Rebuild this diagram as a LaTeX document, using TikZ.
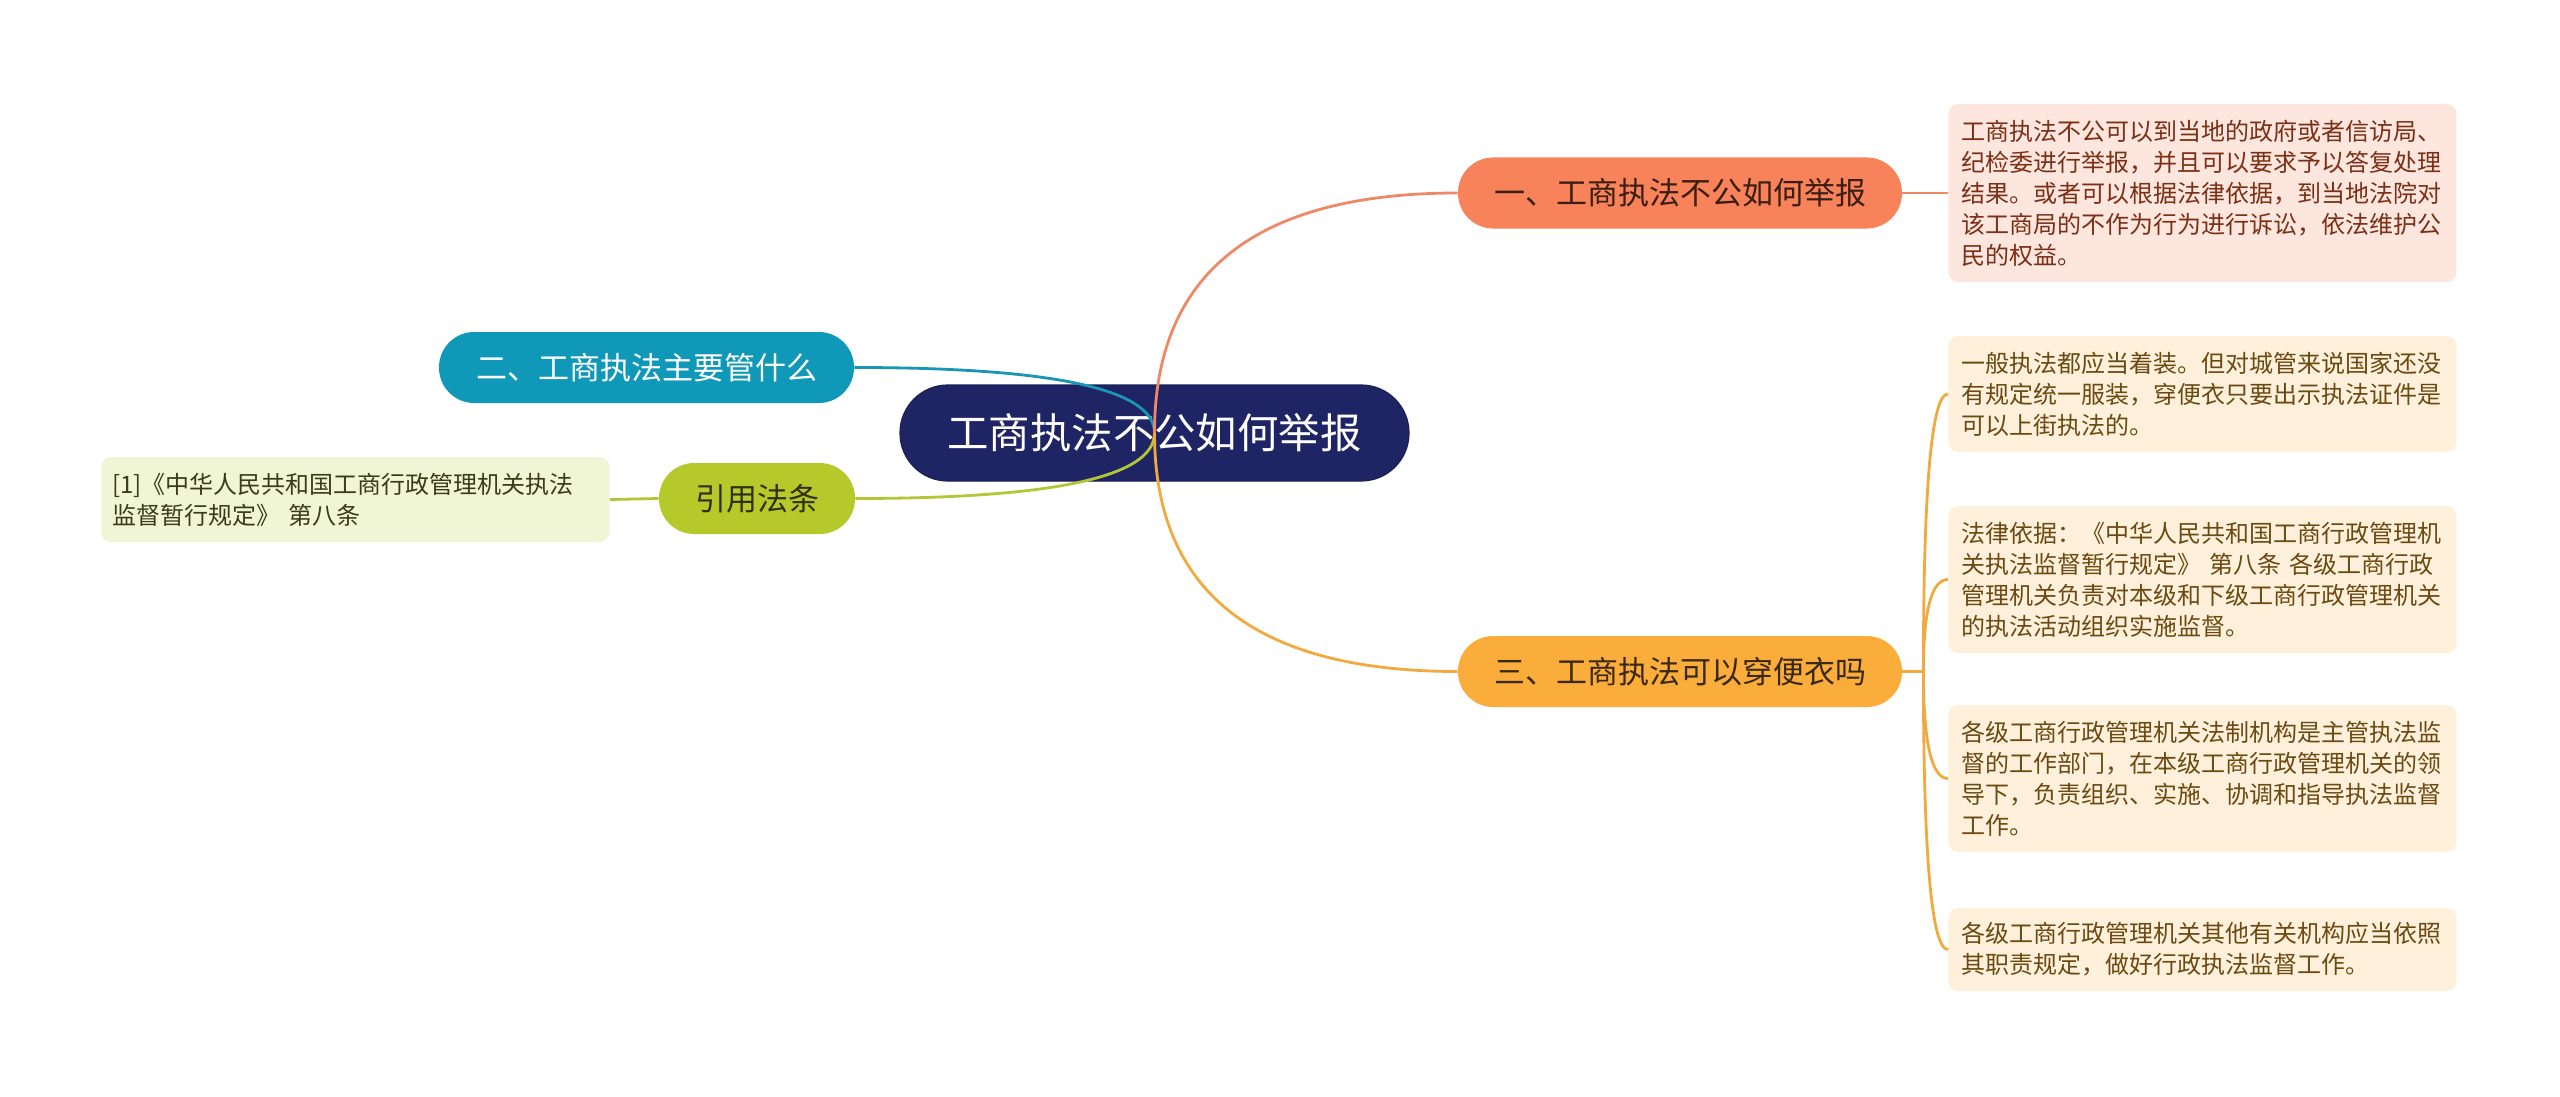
\documentclass[tikz,border=0pt]{standalone}
\usepackage{fontspec}
\newfontfamily\cjk{Noto Sans CJK SC}
\usetikzlibrary{calc}
\definecolor{rootc}{HTML}{1F2564}
\definecolor{rootd}{HTML}{1A1F55}
\definecolor{cA}{HTML}{F8825A}
\definecolor{cB}{HTML}{0F98B8}
\definecolor{cC}{HTML}{FBAD3B}
\definecolor{cD}{HTML}{B5CA2A}
\definecolor{tA}{HTML}{3A1E12}
\definecolor{tC}{HTML}{3A2812}
\definecolor{tD}{HTML}{2E3010}
\definecolor{kA}{HTML}{EF8866}
\definecolor{kB}{HTML}{1A96B5}
\definecolor{kC}{HTML}{F2A93E}
\definecolor{kD}{HTML}{B3C736}
\definecolor{lA}{HTML}{FDE6DE}
\definecolor{lC}{HTML}{FEF0DA}
\definecolor{lD}{HTML}{F0F5D6}
\definecolor{ltA}{HTML}{7B2F14}
\definecolor{ltC}{HTML}{6B4A12}
\definecolor{ltD}{HTML}{3A3C18}
\begin{document}
\begin{tikzpicture}[x=0.5pt,y=-0.5pt,
  rootbox/.style={rectangle, rounded corners=23.9pt, fill=rootc, draw=rootd, line width=0.6pt,
    text=white, font=\cjk\fontsize{20.7pt}{24pt}\selectfont,
    minimum width=254.5pt, minimum height=48pt, inner sep=0pt},
  branchbox/.style={rectangle, rounded corners=17.6pt, minimum width=222pt, minimum height=35.5pt,
    inner sep=0pt, font=\cjk\fontsize{15.5pt}{18pt}\selectfont},
  leafbox/.style={rectangle, rounded corners=5pt, anchor=west, inner xsep=6.5pt, inner ysep=0pt,
    text width=241pt, align=left, font=\cjk\fontsize{12pt}{15.5pt}\selectfont},
  link/.style={line width=1.4pt}]
\useasboundingbox (0,0) rectangle (2560,1097);
\fill[white] (0,0) rectangle (2560,1097);

% nodes
\node[rootbox] (root) at (1154.5,433) {工商执法不公如何举报};
\node[branchbox, fill=cA, text=tA] (n1) at (1680,193) {一、工商执法不公如何举报};
\node[branchbox, fill=cC, text=tC] (n3) at (1680,671.5) {三、工商执法可以穿便衣吗};
\node[branchbox, fill=cB, text=white, minimum width=207.5pt] (n2) at (646.5,367.5) {二、工商执法主要管什么};
\node[branchbox, fill=cD, text=tD, minimum width=98pt] (n4) at (757,498.5) {引用法条};

\node[leafbox, fill=lA, text=ltA, minimum height=89pt] (l1) at (1948,193) {工商执法不公可以到当地的政府或者信访局、\\纪检委进行举报，并且可以要求予以答复处理\\结果。或者可以根据法律依据，到当地法院对\\该工商局的不作为行为进行诉讼，依法维护公\\民的权益。};
\node[leafbox, fill=lC, text=ltC, minimum height=58pt] (l3a) at (1948,394) {一般执法都应当着装。但对城管来说国家还没\\有规定统一服装，穿便衣只要出示执法证件是\\可以上街执法的。};
\node[leafbox, fill=lC, text=ltC, minimum height=73.5pt] (l3b) at (1948,579.5) {法律依据：《中华人民共和国工商行政管理机\\关执法监督暂行规定》 第八条 各级工商行政\\管理机关负责对本级和下级工商行政管理机关\\的执法活动组织实施监督。};
\node[leafbox, fill=lC, text=ltC, minimum height=73.5pt] (l3c) at (1948,778.5) {各级工商行政管理机关法制机构是主管执法监\\督的工作部门，在本级工商行政管理机关的领\\导下，负责组织、实施、协调和指导执法监督\\工作。};
\node[leafbox, fill=lC, text=ltC, minimum height=41.5pt] (l3d) at (1948,949.5) {各级工商行政管理机关其他有关机构应当依照\\其职责规定，做好行政执法监督工作。};
\node[leafbox, fill=lD, text=ltD, minimum height=42.5pt, inner xsep=5.5pt, text width=243pt] (r) at (101,499.5) {[1]《中华人民共和国工商行政管理机关执法\\监督暂行规定》 第八条};

% control points
\coordinate (q1) at (root.center |- n1.west);
\coordinate (q3) at (root.center |- n3.west);
\coordinate (q2) at (root.center |- n2.east);
\coordinate (q4) at (root.center |- n4.east);
\coordinate (j3) at ($(n3.east)+(21,0)$);
\coordinate (qa) at (j3 |- l3a.west);
\coordinate (qb) at (j3 |- l3b.west);
\coordinate (qc) at (j3 |- l3c.west);
\coordinate (qd) at (j3 |- l3d.west);

% connectors from root
\draw[link, kB] (root.center) .. controls ($(root.center)!0.6667!(q2)$) and ($(n2.east)!0.6667!(q2)$) .. (n2.east);
\draw[link, kD] (root.center) .. controls ($(root.center)!0.6667!(q4)$) and ($(n4.east)!0.6667!(q4)$) .. (n4.east);
\draw[link, kA] (root.center) .. controls ($(root.center)!0.6667!(q1)$) and ($(n1.west)!0.6667!(q1)$) .. (n1.west);
\draw[link, kC] (root.center) .. controls ($(root.center)!0.6667!(q3)$) and ($(n3.west)!0.6667!(q3)$) .. (n3.west);

% branch to leaves
\draw[link, kA] (n1.east) -- (l1.west);
\draw[link, kD] (n4.west) -- (r.east);
\draw[link, kC] (n3.east) -- (j3);
\draw[link, kC] (j3) .. controls ($(j3)!0.6667!(qa)$) and ($(l3a.west)!0.6667!(qa)$) .. (l3a.west);
\draw[link, kC] (j3) .. controls ($(j3)!0.6667!(qb)$) and ($(l3b.west)!0.6667!(qb)$) .. (l3b.west);
\draw[link, kC] (j3) .. controls ($(j3)!0.6667!(qc)$) and ($(l3c.west)!0.6667!(qc)$) .. (l3c.west);
\draw[link, kC] (j3) .. controls ($(j3)!0.6667!(qd)$) and ($(l3d.west)!0.6667!(qd)$) .. (l3d.west);
\end{tikzpicture}
\end{document}
